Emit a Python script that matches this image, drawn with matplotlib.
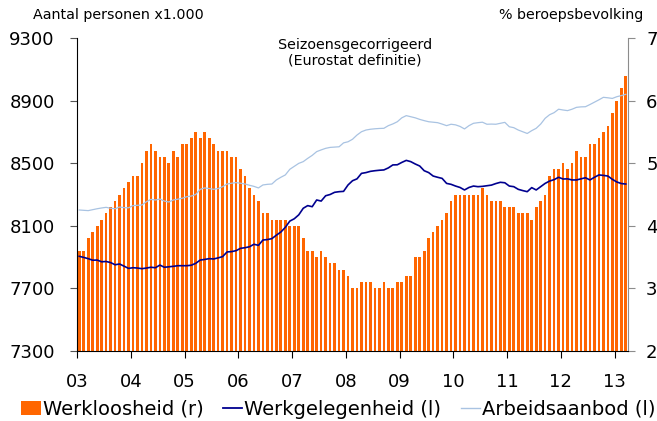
import numpy as np
import matplotlib
matplotlib.use("Agg")
import matplotlib.pyplot as plt
from matplotlib.patches import Patch
from matplotlib.lines import Line2D

# maandcijfers jan 2003 - mrt 2013
werkloosheid = [
    3.6, 3.6, 3.8, 3.9, 4.0, 4.1, 4.2, 4.3, 4.4, 4.5, 4.6, 4.7,
    4.8, 4.8, 5.0, 5.2, 5.3, 5.2, 5.1, 5.1, 5.0, 5.2, 5.1, 5.3,
    5.3, 5.4, 5.5, 5.4, 5.5, 5.4, 5.3, 5.2, 5.2, 5.2, 5.1, 5.1,
    4.9, 4.8, 4.6, 4.5, 4.4, 4.2, 4.2, 4.1, 4.1, 4.1, 4.1, 4.0,
    4.0, 4.0, 3.8, 3.6, 3.6, 3.5, 3.6, 3.5, 3.4, 3.4, 3.3, 3.3,
    3.2, 3.0, 3.0, 3.1, 3.1, 3.1, 3.0, 3.0, 3.1, 3.0, 3.0, 3.1,
    3.1, 3.2, 3.2, 3.5, 3.5, 3.6, 3.8, 3.9, 4.0, 4.1, 4.2, 4.4,
    4.5, 4.5, 4.5, 4.5, 4.5, 4.5, 4.6, 4.5, 4.4, 4.4, 4.4, 4.3,
    4.3, 4.3, 4.2, 4.2, 4.2, 4.1, 4.3, 4.4, 4.5, 4.8, 4.9, 4.9,
    5.0, 4.9, 5.0, 5.2, 5.1, 5.1, 5.3, 5.3, 5.4, 5.5, 5.6, 5.8,
    6.0, 6.2, 6.4,
]

werkgelegenheid = [
    7905, 7898, 7890, 7880, 7881, 7870, 7872, 7865, 7851, 7856, 7842, 7828,
    7832, 7830, 7826, 7830, 7835, 7832, 7849, 7835, 7838, 7841, 7845, 7845,
    7845, 7848, 7860, 7881, 7885, 7890, 7888, 7895, 7903, 7933, 7935, 7941,
    7956, 7960, 7966, 7982, 7975, 8009, 8012, 8018, 8040, 8060, 8090, 8130,
    8145, 8170, 8212, 8229, 8222, 8265, 8258, 8292, 8300, 8314, 8318, 8320,
    8361, 8388, 8400, 8435, 8440, 8448, 8452, 8455, 8457, 8470, 8489, 8490,
    8505, 8518, 8510, 8495, 8482, 8452, 8440, 8418, 8410, 8403, 8371, 8365,
    8354, 8345, 8329, 8345, 8354, 8350, 8352, 8356, 8360, 8370, 8378, 8375,
    8354, 8350, 8333, 8325, 8318, 8344, 8329, 8350, 8371, 8386, 8395, 8410,
    8399, 8400, 8393, 8393, 8400, 8407, 8393, 8410, 8425, 8422, 8418, 8397,
    8380, 8370, 8367,
]

arbeidsaanbod = [
    8201, 8199, 8197, 8203, 8209, 8214, 8218, 8212, 8209, 8220, 8216, 8215,
    8229, 8231, 8233, 8254, 8269, 8265, 8271, 8258, 8252, 8265, 8270, 8276,
    8286, 8290, 8300, 8333, 8342, 8338, 8333, 8338, 8350, 8367, 8372, 8376,
    8372, 8367, 8359, 8352, 8342, 8361, 8365, 8367, 8393, 8410, 8425, 8461,
    8480, 8499, 8510, 8531, 8550, 8574, 8585, 8595, 8601, 8603, 8605, 8630,
    8637, 8653, 8680, 8701, 8712, 8717, 8720, 8722, 8723, 8740, 8751, 8765,
    8790, 8804, 8797, 8790, 8780, 8772, 8765, 8762, 8759, 8750, 8740, 8749,
    8745, 8735, 8719, 8740, 8755, 8759, 8762, 8749, 8750, 8749, 8755, 8761,
    8733, 8727, 8712, 8701, 8690, 8708, 8723, 8750, 8787, 8810, 8823, 8845,
    8840, 8836, 8845, 8857, 8860, 8861, 8875, 8890, 8905, 8921, 8918, 8914,
    8925, 8932, 8940,
]

jaren = ["03", "04", "05", "06", "07", "08", "09", "10", "11", "12", "13"]

oranje = "#FF6600"
donkerblauw = "#00008F"
lichtblauw = "#A9C3E2"

maanden = np.arange(len(werkloosheid))

fig = plt.figure(figsize=(6.57, 4.21), dpi=100)
ax = fig.add_axes([0.1172, 0.1663, 0.8387, 0.7434])
ax2 = ax.twinx()

# staven (rechter as) achter de lijnen
ax2.bar(maanden, werkloosheid, width=0.6, color=oranje, linewidth=0)
ax2.set_ylim(2, 7)
ax2.set_yticks([2, 3, 4, 5, 6, 7])

ax.plot(maanden, arbeidsaanbod, color=lichtblauw, lw=0.9)
ax.plot(maanden, werkgelegenheid, color=donkerblauw, lw=1.2)
ax.set_ylim(7300, 9300)
ax.set_yticks(np.arange(7300, 9301, 400))
ax.set_xlim(-0.5, len(werkloosheid) - 0.5)
ax.set_xticks([12 * k - 0.5 for k in range(len(jaren))])
ax.set_xticklabels(jaren)

ax.set_zorder(ax2.get_zorder() + 1)
ax.patch.set_visible(False)

for a in (ax, ax2):
    a.spines["top"].set_visible(False)
ax.spines["right"].set_visible(False)
ax2.spines["left"].set_visible(False)
ax2.spines["bottom"].set_visible(False)
ax2.spines["right"].set_color("#8c8c8c")
ax.spines["left"].set_color("black")
ax.spines["bottom"].set_color("black")

ax.tick_params(axis="y", direction="out", length=5, pad=11, labelsize=13, color="#555555")
ax.tick_params(axis="x", direction="out", length=5, pad=11, labelsize=13)
ax2.tick_params(axis="y", direction="out", length=5, pad=8, labelsize=13, color="#8c8c8c")

fig.text(0.05, 0.965, "Aantal personen x1.000", fontsize=10.3, va="center", ha="left")
fig.text(0.979, 0.965, "% beroepsbevolking", fontsize=10.3, va="center", ha="right")
fig.text(0.54, 0.875, "Seizoensgecorrigeerd\n(Eurostat definitie)", fontsize=10.3,
         ha="center", va="center", linespacing=1.1)

handles = [
    Patch(facecolor=oranje, edgecolor="none"),
    Line2D([], [], color=donkerblauw, lw=1.3),
    Line2D([], [], color=lichtblauw, lw=1.0),
]
labels = ["Werkloosheid (r)", "Werkgelegenheid (l)", "Arbeidsaanbod (l)"]
fig.legend(handles, labels, loc="center", bbox_to_anchor=(0.515, 0.028), ncol=3,
           frameon=False, fontsize=14, handlelength=1.0, handletextpad=0.1,
           columnspacing=1.0, borderaxespad=0, borderpad=0)

fig.savefig("out.png", dpi=100)
